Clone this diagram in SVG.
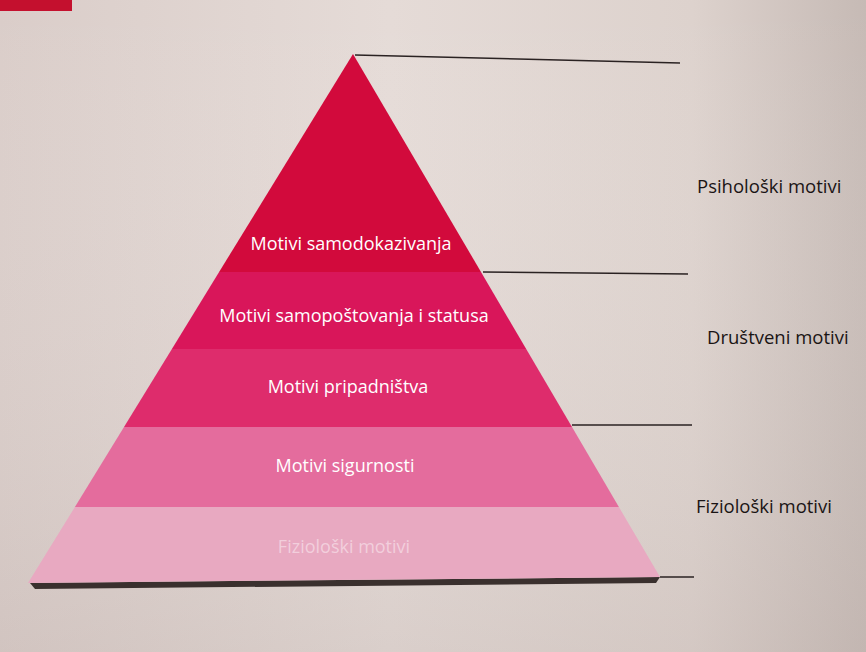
<svg xmlns="http://www.w3.org/2000/svg" width="866" height="652" viewBox="0 0 866 652">
  <defs>
    <linearGradient id="bg" x1="0" y1="0" x2="1" y2="0">
      <stop offset="0" stop-color="#dacdc9"/>
      <stop offset="0.45" stop-color="#e5dbd7"/>
      <stop offset="0.8" stop-color="#ddd2cd"/>
      <stop offset="1" stop-color="#c6bab5"/>
    </linearGradient>
    <linearGradient id="bgv" x1="0" y1="0" x2="0" y2="1">
      <stop offset="0" stop-color="#ffffff" stop-opacity="0"/>
      <stop offset="1" stop-color="#b8aaa6" stop-opacity="0.25"/>
    </linearGradient>
    <style>
      .band-label { font-family: "Open Sans", "Noto Sans", "Liberation Sans", sans-serif; font-size: 18px; fill: #ffffff; text-anchor: middle; }
      .side-label { font-family: "Open Sans", "Noto Sans", "Liberation Sans", sans-serif; font-size: 18.5px; fill: #1a1414; }
      .rule { stroke: #2a2222; stroke-width: 1.5; fill: none; }
    </style>
  </defs>
  <rect width="866" height="652" fill="url(#bg)"/>
  <rect width="866" height="652" fill="url(#bgv)"/>
  <rect x="0" y="0" width="72" height="11" fill="#c4102e"/>

  <!-- page shadow under pyramid -->
  <polygon points="30,583 660,577 656,583 35,589" fill="#3a302e"/>

  <g id="layer-5">
    <polygon points="74.9,507 618.9,507 660,577 28,583" fill="#e8a9c1"/>
    <text class="band-label" x="344" y="553" style="fill-opacity:0.45">Fiziološki motivi</text>
  </g>
  <g id="layer-4">
    <polygon points="124,427 572,427 618.9,507 74.9,507" fill="#e46c9d"/>
    <text class="band-label" x="345" y="472">Motivi sigurnosti</text>
  </g>
  <g id="layer-3">
    <polygon points="171.9,349 526.2,349 572,427 124,427" fill="#de2c6c"/>
    <text class="band-label" x="348" y="393">Motivi pripadništva</text>
  </g>
  <g id="layer-2">
    <polygon points="219.1,272 481,272 526.2,349 171.9,349" fill="#d9165a"/>
    <text class="band-label" x="354" y="322">Motivi samopoštovanja i statusa</text>
  </g>
  <g id="layer-1">
    <polygon points="353,54 481,272 219.1,272" fill="#d20a3c"/>
    <text class="band-label" x="351" y="250">Motivi samodokazivanja</text>
  </g>

  <g id="connectors">
    <line class="rule" x1="355" y1="55" x2="680" y2="63"/>
    <line class="rule" x1="483" y1="272" x2="688" y2="274"/>
    <line class="rule" x1="572" y1="425" x2="692" y2="425"/>
    <line class="rule" x1="660" y1="577" x2="694" y2="577"/>
  </g>

  <g id="label-psiholoski">
    <text class="side-label" x="697" y="193">Psihološki motivi</text>
  </g>
  <g id="label-drustveni">
    <text class="side-label" x="707" y="344">Društveni motivi</text>
  </g>
  <g id="label-fizioloski">
    <text class="side-label" x="696" y="513">Fiziološki motivi</text>
  </g>
</svg>
